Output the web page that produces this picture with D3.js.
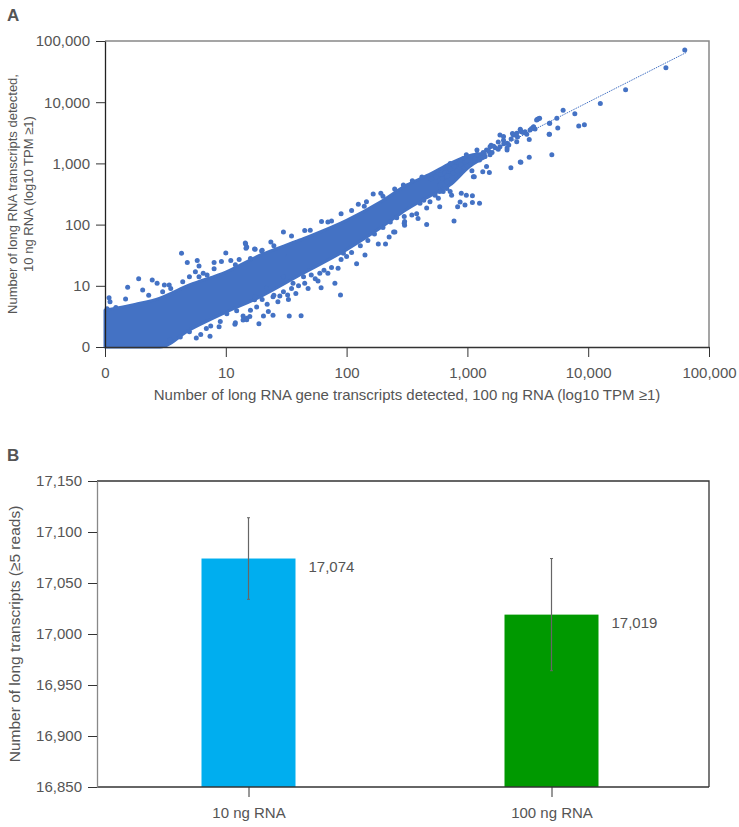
<!DOCTYPE html>
<html>
<head>
<meta charset="utf-8">
<script src="https://cdn.jsdelivr.net/npm/d3@7"></script>
<style>
  html, body { margin: 0; padding: 0; background: #fff; }
  svg text { font-family: "Liberation Sans", Arial, sans-serif; fill: #555; }
</style>
</head>
<body>
<svg id="chart" width="739" height="827"></svg>
<script>
'use strict';

// ---- panel A data (log10 TPM, "0" shown at 1) ----
const logTicks = [1, 10, 100, 1000, 10000, 100000];

// dense core of the scatter, read as lower / upper edge along x
const bandX    = [1,   1.8, 2.85, 5.0,  10,   19.2, 41, 100, 190, 316, 500, 720,  1050, 1400];
const bandLow  = [1,   1,   1,    1.9,  3.7,  6.6,  15, 39,  88,  178, 300, 445,  900,  1250];
const bandHigh = [4.0, 5.0, 6.3,  10.3, 16.8, 31.6, 56, 117, 234, 445, 680, 1000, 1350, 1450];

// single transcripts that stand out of the core
const outliers = [
  [4.3, 34], [14.6, 48], [10, 34.5], [1.9, 13], [1.54, 9.5], [1.08, 6.4], [1.1, 5.5], [1.04, 4.2],
  [2.05, 8.5], [2.46, 12.4], [2.7, 11], [3.1, 10.3], [3.4, 10.3], [2.3, 7], [1.48, 6.1], [1.23, 4.4],
  [4.8, 24], [5.8, 26], [6.0, 21], [8.0, 24], [9.2, 25], [11, 26], [12.9, 27], [17.5, 39.5], [14.9, 43],
  [4.4, 11.7], [5.0, 14], [5.6, 17], [6.5, 16],
  [7.4, 1.5], [5.7, 1.4], [4.2, 1.45], [3.45, 1.3], [8.8, 2.15], [11.9, 2.35], [14.9, 2.95], [13.9, 2.75],
  [17.3, 5.9], [12.3, 3.9], [10.2, 3.5], [6.9, 2.0], [5.0, 1.78],
  [30, 76], [23.6, 52], [14.5, 50], [14.7, 41], [17.3, 40], [19.8, 37], [62, 112], [75, 114],
  [125, 215], [146, 236], [166, 316], [192, 324], [295, 445], [50, 81],
  [18.8, 2.4], [33.5, 3.2], [42, 3.25], [24.6, 3.3], [22.5, 3.8], [20.5, 3.2], [15.8, 3.15], [14.9, 2.8], [13.9, 3.2],
  [24.6, 6.6], [28, 6.8], [32.5, 7.1], [61.5, 9.3], [80, 11], [121, 23], [142, 32], [183, 48], [210, 48],
  [225, 63], [245, 76], [300, 105], [300, 135], [44, 14], [51, 15], [60, 16], [85, 19.3], [94, 34],
  [30, 14], [36, 11], [17.4, 6.6], [21.8, 9.1], [89, 7.1],
  [20, 6], [22, 5], [25, 7], [27, 5.5], [30, 8], [33, 6], [35, 9], [38, 7.5], [40, 10], [45, 11], [48, 9],
  [55, 13], [58, 12], [65, 18], [70, 16], [75, 20], [90, 27], [100, 30], [110, 35], [130, 45], [150, 55],
  [170, 70], [200, 90], [230, 110], [260, 130], [12, 2.5], [16, 4], [18, 4.5], [9, 2.6], [7.5, 2.2], [6.2, 1.6],
  [3, 8], [3.5, 9], [6, 14], [7, 15], [8, 19], [12, 22], [16, 28], [20, 38], [25, 45], [35, 65], [45, 80],
  [70, 110], [90, 150], [110, 170], [140, 200], [200, 290], [250, 380], [350, 520], [420, 600],
  [3800, 5250], [3960, 5450], [4800, 4550], [5500, 5450], [3530, 3980], [3630, 3650], [2740, 3520], [2800, 3300],
  [2400, 2900], [2560, 3100], [1860, 2900], [1990, 2400], [2130, 2130], [1860, 1870], [1540, 1380], [1440, 1660],
  [1260, 1140], [1200, 1660], [980, 1380], [930, 1200], [870, 1070], [760, 940], [720, 1000],
  [2130, 1660], [2560, 2250], [3250, 2460], [4750, 3000], [5000, 1380], [3250, 1260], [2740, 1050], [2290, 850],
  [1440, 890], [1340, 730], [1520, 710], [1090, 760], [1120, 605], [1140, 605],
  [1260, 224], [1100, 230], [955, 209], [870, 235], [830, 195], [980, 302], [890, 324], [1100, 295],
  [775, 115], [720, 347], [740, 302], [590, 445], [675, 500], [630, 347], [590, 195], [575, 269],
  [460, 186], [380, 151], [460, 100], [390, 126], [347, 144], [302, 112], [251, 76], [302, 98],
  [490, 236], [540, 302], [590, 347], [675, 390], [405, 224], [435, 251],
  [63000, 71000], [44000, 36500], [20400, 15900], [12600, 9500], [6200, 7400], [7750, 6450],
  [8350, 4080], [9300, 4270], [5600, 3800], [4780, 4550], [4780, 3000], [2770, 1040],
  [3880, 5350], [3740, 5100], [3520, 3900], [3400, 3730], [2740, 3600], [3000, 3300],
  [2360, 3080], [2500, 2900], [1990, 2750], [2130, 1780], [1800, 2230], [1540, 1870], [1570, 1980],
  [800, 900], [850, 800], [900, 1000], [1000, 1100], [1050, 950], [1100, 1300], [1150, 1200], [1200, 1400],
  [1300, 1250], [1350, 1500], [1400, 1300], [1500, 1600], [1600, 1500], [1700, 1800], [1650, 1900],
  [1800, 1700], [2000, 2100], [2200, 2000], [2300, 2500], [2600, 2700], [2900, 3200], [3100, 3000], [3300, 3500],
  [600, 650], [650, 700], [700, 750], [550, 600], [500, 560], [620, 560], [720, 800], [680, 620],
  [760, 700], [780, 880], [820, 760], [950, 870], [1000, 900], [880, 950]
];

// fitted line (y = x)
const fitLine = [[1, 1], [65000, 65000]];

// ---- panel B data ----
const groups   = ['10 ng RNA', '100 ng RNA'];
const counts   = [17074, 17019];
const errors   = [40, 55];
const barColors = ['#00AEEF', '#009900'];
const countTicks = [16850, 16900, 16950, 17000, 17050, 17100, 17150];

const svg = d3.select('#chart');
const dotColor = '#4472C4';
const fmt = d3.format(',');

// ================= panel A =================
const a = { left: 105, top: 41, width: 604, height: 306 };
const gA = svg.append('g').attr('transform', `translate(${a.left},${a.top})`);

const xA = d3.scaleLog().domain([1, 100000]).range([0, a.width]);
const yA = d3.scaleLog().domain([1, 100000]).range([a.height, 0]);
const logFmt = v => v === 1 ? '0' : fmt(v);

// frame: top and right in grey
gA.append('path')
  .attr('d', `M0,0H${a.width}V${a.height}`)
  .attr('fill', 'none')
  .attr('stroke', '#888')
  .attr('stroke-width', 1.5);

const band = d3.area()
  .x((d, i) => xA(bandX[i]))
  .y0((d, i) => yA(bandLow[i]))
  .y1((d, i) => yA(bandHigh[i]))
  .curve(d3.curveMonotoneX);

gA.append('path')
  .datum(bandX)
  .attr('d', band)
  .attr('fill', dotColor)
  .attr('stroke', dotColor)
  .attr('stroke-width', 3)
  .attr('stroke-linejoin', 'round');

gA.append('path')
  .datum(fitLine)
  .attr('d', d3.line().x(d => xA(d[0])).y(d => yA(d[1])))
  .attr('stroke', dotColor)
  .attr('stroke-width', 1)
  .attr('stroke-dasharray', '1.5,1')
  .attr('fill', 'none');

gA.append('g')
  .selectAll('circle')
  .data(outliers)
  .join('circle')
  .attr('cx', d => xA(d[0]))
  .attr('cy', d => yA(d[1]))
  .attr('r', 2.5)
  .attr('fill', dotColor);

const styleAxis = (g, color) => {
  g.select('.domain').attr('stroke', color).attr('stroke-width', 1.3);
  g.selectAll('.tick line').attr('stroke', '#333');
  g.selectAll('.tick text').style('font-size', '15px').attr('fill', '#555');
};

gA.append('g')
  .attr('transform', `translate(0,${a.height})`)
  .call(d3.axisBottom(xA).tickValues(logTicks).tickFormat(logFmt).tickSize(10).tickSizeOuter(0).tickPadding(10))
  .call(g => styleAxis(g, '#333'));

gA.append('g')
  .call(d3.axisLeft(yA).tickValues(logTicks).tickFormat(logFmt).tickSize(9).tickSizeOuter(0).tickPadding(6))
  .call(g => styleAxis(g, '#222'));

svg.append('text')
  .attr('x', a.left + a.width / 2)
  .attr('y', 400)
  .attr('text-anchor', 'middle')
  .style('font-size', '15px')
  .text('Number of long RNA gene transcripts detected, 100 ng RNA (log10 TPM \u22651)');

const yTitleA = svg.append('text')
  .attr('transform', `translate(0,${a.top + a.height / 2}) rotate(-90)`)
  .attr('text-anchor', 'middle')
  .style('font-size', '13px');
yTitleA.append('tspan').attr('x', 0).attr('y', 17).text('Number of long RNA transcripts detected,');
yTitleA.append('tspan').attr('x', 0).attr('y', 33).text('10 ng RNA (log10 TPM \u22651)');

svg.append('text').attr('x', 7).attr('y', 21)
  .style('font-size', '17px').style('font-weight', 'bold').attr('fill', '#222').text('A');

// ================= panel B =================
const b = { left: 97, top: 481, width: 612, height: 306 };
const gB = svg.append('g').attr('transform', `translate(${b.left},${b.top})`);

const xB = d3.scalePoint().domain(groups).range([0, b.width - 6]).padding(0.5);
const yB = d3.scaleLinear().domain([16850, 17150]).range([b.height, 0]);
const barWidth = 94;

gB.append('path')
  .attr('d', `M0,0H${b.width}V${b.height}`)
  .attr('fill', 'none')
  .attr('stroke', '#333')
  .attr('stroke-width', 1.3);

gB.selectAll('rect.bar')
  .data(groups)
  .join('rect')
  .attr('class', 'bar')
  .attr('x', d => xB(d) - barWidth / 2)
  .attr('width', barWidth)
  .attr('y', (d, i) => yB(counts[i]))
  .attr('height', (d, i) => b.height - yB(counts[i]))
  .attr('fill', (d, i) => barColors[i]);

const err = gB.selectAll('g.err')
  .data(groups)
  .join('g')
  .attr('class', 'err');
err.append('line')
  .attr('x1', d => xB(d)).attr('x2', d => xB(d))
  .attr('y1', (d, i) => yB(counts[i] + errors[i]))
  .attr('y2', (d, i) => yB(counts[i] - errors[i]))
  .attr('stroke', '#666').attr('stroke-width', 1.2);
err.append('line')
  .attr('x1', d => xB(d) - 1.5).attr('x2', d => xB(d) + 1.5)
  .attr('y1', (d, i) => yB(counts[i] + errors[i]))
  .attr('y2', (d, i) => yB(counts[i] + errors[i]))
  .attr('stroke', '#666');
err.append('line')
  .attr('x1', d => xB(d) - 1.5).attr('x2', d => xB(d) + 1.5)
  .attr('y1', (d, i) => yB(counts[i] - errors[i]))
  .attr('y2', (d, i) => yB(counts[i] - errors[i]))
  .attr('stroke', '#666');

gB.selectAll('text.value')
  .data(groups)
  .join('text')
  .attr('class', 'value')
  .attr('x', d => xB(d) + barWidth / 2 + 13)
  .attr('y', (d, i) => yB(counts[i]) + 13)
  .style('font-size', '15px')
  .attr('fill', '#555')
  .text((d, i) => fmt(counts[i]));

gB.append('g')
  .attr('transform', `translate(0,${b.height})`)
  .call(d3.axisBottom(xB).tickSize(10).tickSizeOuter(0).tickPadding(10))
  .call(g => g.select('.domain').attr('d', `M0,0H${b.width}`))
  .call(g => styleAxis(g, '#333'));

gB.append('g')
  .call(d3.axisLeft(yB).tickValues(countTicks).tickFormat(fmt).tickSize(9).tickSizeOuter(0).tickPadding(6))
  .call(g => styleAxis(g, '#888'));

svg.append('text')
  .attr('transform', `translate(20,${b.top + b.height / 2}) rotate(-90)`)
  .attr('text-anchor', 'middle')
  .style('font-size', '15.5px')
  .text('Number of long transcripts (\u22655 reads)');

svg.append('text').attr('x', 7).attr('y', 461)
  .style('font-size', '17px').style('font-weight', 'bold').attr('fill', '#222').text('B');
</script>
</body>
</html>
